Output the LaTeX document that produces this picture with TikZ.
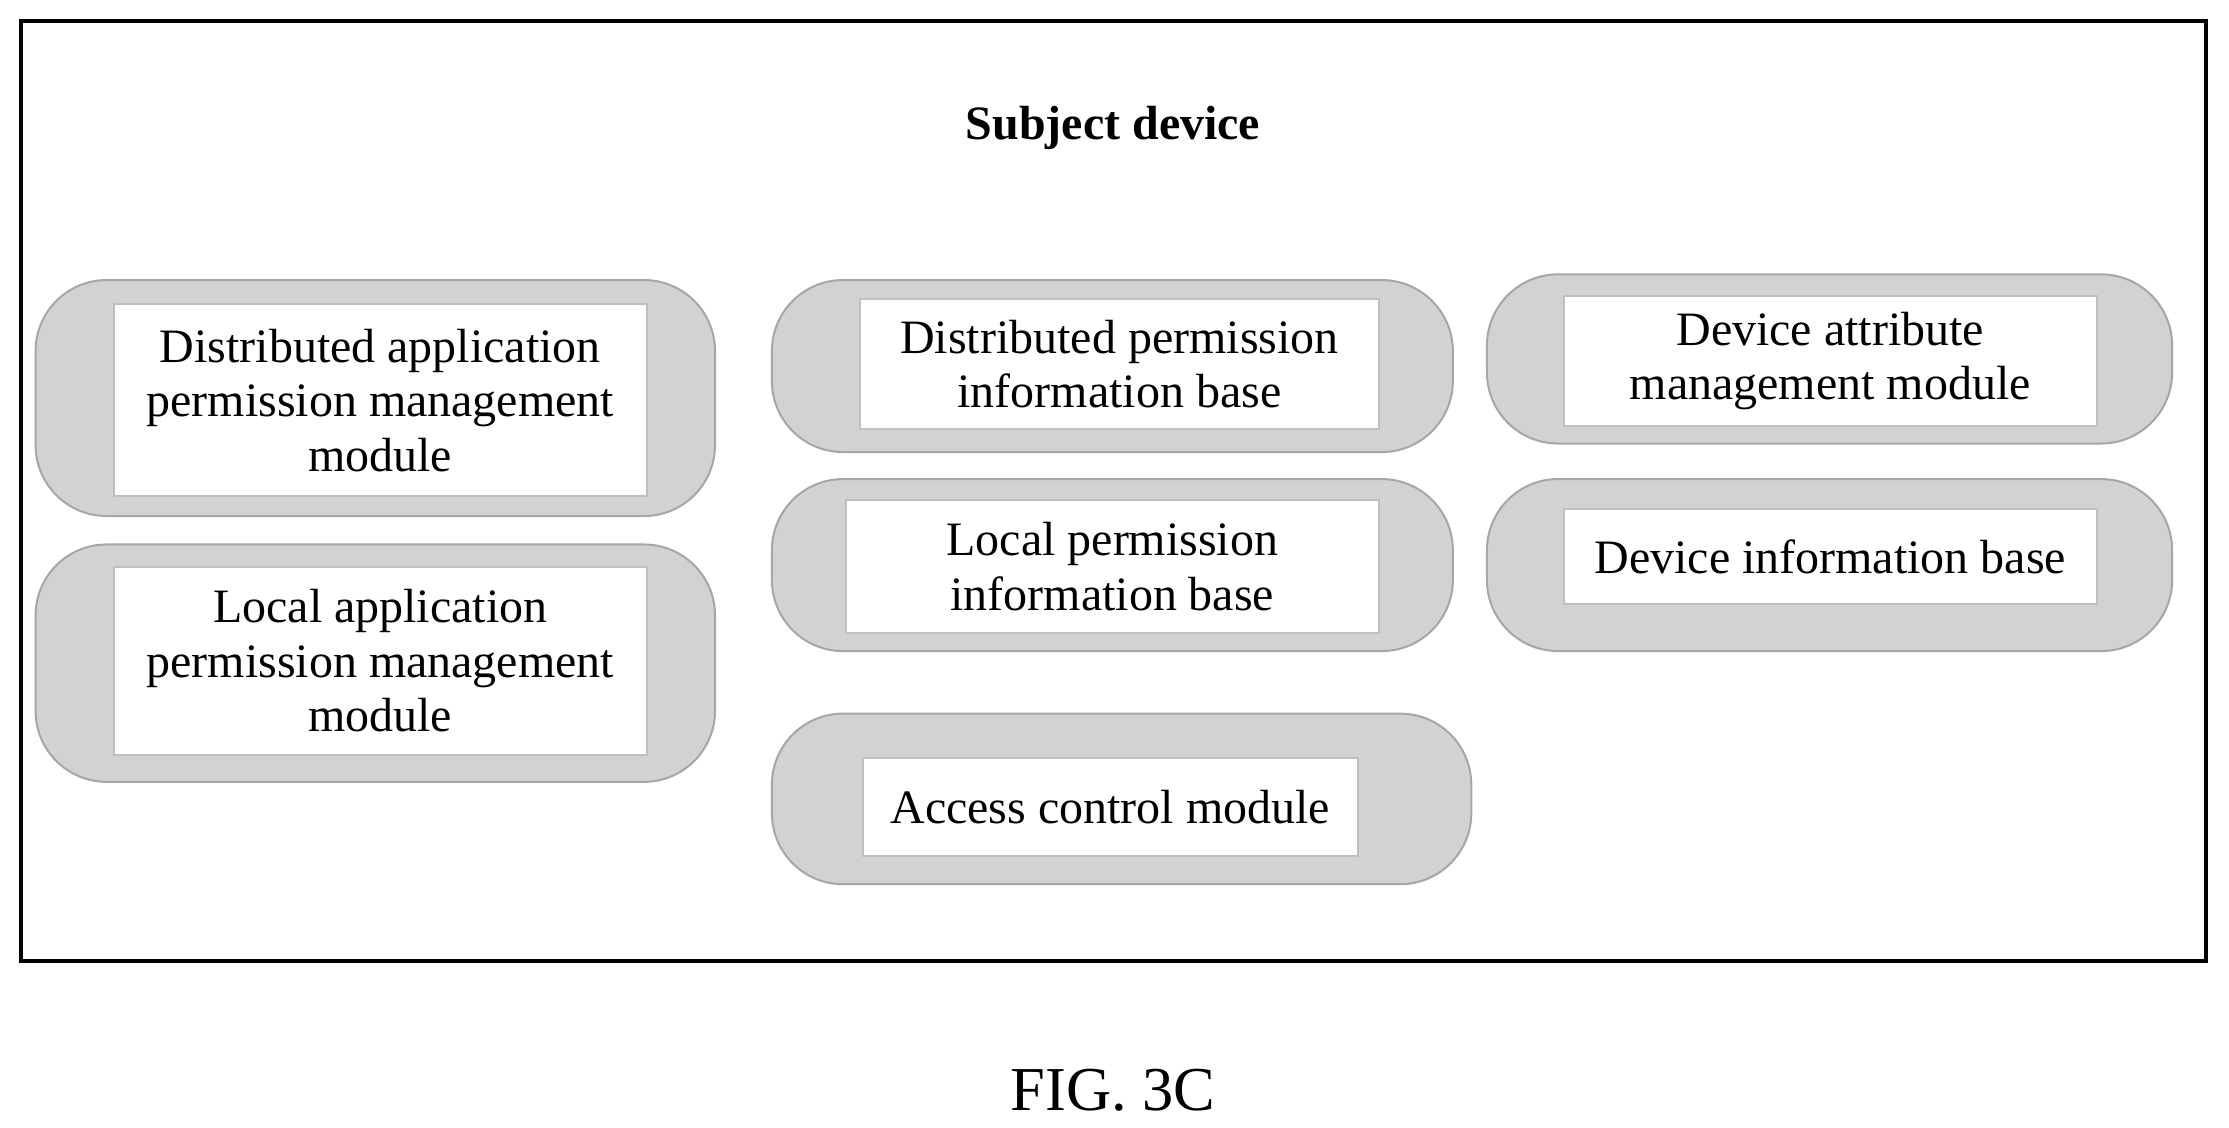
\documentclass[tikz,border=0pt]{standalone}
\usepackage{fontspec}
\setmainfont{Liberation Serif}
\begin{document}
\begin{tikzpicture}[x=0.1mm,y=-0.1mm,
    shell/.style={draw=gray!70,fill=gray!35,rounded corners=5mm,inner sep=0pt},
    module/.style={draw=gray!50,fill=white,inner sep=0pt,align=center,
        font=\fontsize{9.6}{10.9}\selectfont}]
    \useasboundingbox (0,0) rectangle (1568,793);
    \draw[thick] (15,15) rectangle (1552,676);
    \node[font=\fontsize{9.6}{11}\selectfont\bfseries] (title) at (783,90) {Subject device};
    % left column
    \node[shell,minimum width=47.8mm,minimum height=16.6mm] (s1) at (264,280) {};
    \node[module,minimum width=37.5mm,minimum height=13.5mm] (dapm) at (267.5,281.5) {Distributed application\\permission management\\module};
    \node[shell,minimum width=47.8mm,minimum height=16.7mm] (s2) at (264,466.5) {};
    \node[module,minimum width=37.5mm,minimum height=13.2mm] (lapm) at (267.5,465) {Local application\\permission management\\module};
    % middle column
    \node[shell,minimum width=47.9mm,minimum height=12.1mm] (s3) at (782.5,257.5) {};
    \node[module,minimum width=36.5mm,minimum height=9.2mm] (dpib) at (787.5,256) {Distributed permission\\information base};
    \node[shell,minimum width=47.9mm,minimum height=12.1mm] (s4) at (782.5,397.5) {};
    \node[module,minimum width=37.5mm,minimum height=9.3mm] (lpib) at (782.5,398.5) {Local permission\\information base};
    \node[shell,minimum width=49.2mm,minimum height=12mm] (s5) at (789,562) {};
    \node[module,minimum width=34.8mm,minimum height=6.9mm] (acm) at (781,567.5) {Access control module};
    % right column
    \node[shell,minimum width=48.2mm,minimum height=11.9mm] (s6) at (1287,252.5) {};
    \node[module,minimum width=37.5mm,minimum height=9.2mm] (damm) at (1287.5,254) {Device attribute\\management module};
    \node[shell,minimum width=48.2mm,minimum height=12.1mm] (s7) at (1287,397.5) {};
    \node[module,minimum width=37.5mm,minimum height=6.7mm] (dib) at (1287.5,391.5) {Device information base};
    \node[font=\fontsize{12.5}{14}\selectfont] (fig) at (783,767) {FIG. 3C};
\end{tikzpicture}
\end{document}
